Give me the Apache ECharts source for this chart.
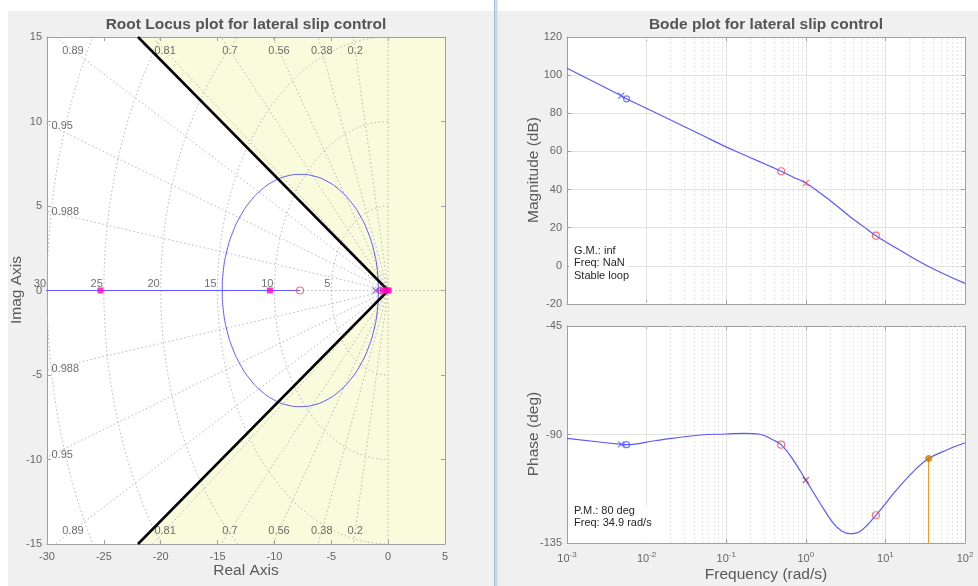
<!DOCTYPE html>
<html>
<head>
<meta charset="utf-8">
<script src="https://cdn.jsdelivr.net/npm/echarts@6/dist/echarts.min.js"></script>
<style>
html, body { margin: 0; padding: 0; background: #ffffff; }
#chart { width: 978px; height: 586px; }
</style>
</head>
<body>
<div id="chart"></div>
<script>
// ---------- Root locus data (real, imag) ----------
const locusRealAxis = [[-32, 0], [-7.75, 0]];
const locusNearOrigin = [[-1.0, 0], [0, 0]];
const locusCircle = [
  [-0.85, 0], [-0.95, 1.19], [-1.26, 2.35], [-1.77, 3.44], [-2.46, 4.42], [-3.30, 5.26],
  [-4.28, 5.95], [-5.37, 6.46], [-6.53, 6.77], [-7.72, 6.87], [-8.91, 6.77], [-10.07, 6.46],
  [-11.16, 5.95], [-12.14, 5.26], [-12.98, 4.42], [-13.67, 3.44], [-14.18, 2.35], [-14.49, 1.19],
  [-14.59, 0], [-14.49, -1.19], [-14.18, -2.35], [-13.67, -3.44], [-12.98, -4.42], [-12.14, -5.26],
  [-11.16, -5.95], [-10.07, -6.46], [-8.91, -6.77], [-7.72, -6.87], [-6.53, -6.77], [-5.37, -6.46],
  [-4.28, -5.95], [-3.30, -5.26], [-2.46, -4.42], [-1.77, -3.44], [-1.26, -2.35], [-0.95, -1.19], [-0.85, 0]
];
const designBoundary = [[-22.0, 15], [0, 0], [-22.0, -15]];
const designRegion = [[-22.0, 15], [0, 0], [-22.0, -15], [5, -15], [5, 15]];
const openLoopPoles = [[-1.1, 0]];
const openLoopZeros = [[-7.75, 0], [-0.62, 0]];
const closedLoopPoles = [[-25.3, 0], [-10.4, 0], [-0.45, 0], [-0.12, 0], [0.05, 0]];
const dampingValues = [0.2, 0.38, 0.56, 0.7, 0.81, 0.89, 0.95, 0.988];
const naturalFreqs = [5, 10, 15, 20, 25, 30];

// ---------- Bode data ----------
const magFreq = [0.001, 0.0048, 0.0056, 0.0126, 0.047, 0.098, 0.164, 0.266, 0.389, 0.49,
  0.697, 1.0, 1.51, 2.21, 3.59, 5.27, 7.59, 15.1, 34.9, 100];
const magDb = [103.6, 89.2, 87.6, 80.5, 69.0, 62.5, 58.4, 54.5, 51.5, 49.6,
  46.5, 43.4, 38.2, 33.0, 25.8, 20.7, 15.8, 8.3, -0.3, -9.2];
const phaseFreq = [0.001, 0.0048, 0.0056, 0.0126, 0.047, 0.098, 0.164, 0.266, 0.389, 0.49,
  0.697, 1.0, 1.51, 2.21, 2.82, 3.59, 4.79, 7.59, 13.8, 22.4, 34.9, 58.9, 100];
const phaseDeg = [-91.6, -94.1, -94.2, -92.6, -90.2, -89.8, -89.5, -89.9, -92.3, -94.2,
  -100.6, -108.9, -118.5, -126.8, -130.0, -131.1, -130.2, -123.5, -113.0, -105.4, -100.0, -96.4, -93.4];
// positions (index into the arrays above) of the open-loop poles and zeros
const magSlowPole = [1], magSlowZero = [2], magFastZeros = [9, 16], magFastPole = [11];
const phSlowPole = [1], phSlowZero = [2], phFastZeros = [9, 17], phFastPole = [11];
const pmDeg = 80;
const pmFreq = 34.9;

// ---------- styling ----------
const FONT = '"Liberation Sans", Arial, Helvetica, sans-serif';
const TICK_COLOR = '#666666';
const AXIS_COLOR = '#a0a0a0';
const BLUE = '#5a5aff';
const RED = '#f0505f';
const MAGENTA = '#ff00c0';
const CROSS = 'path://M0,0L10,10M10,0L0,10';

const chart = echarts.init(document.getElementById('chart'), null, { renderer: 'canvas' });

// sgrid geometry: damping rays and natural-frequency arcs
const sgridSeries = [];
const gridLine = { color: '#b8b8b8', width: 1, type: [1.5, 2.5] };
dampingValues.forEach(z => {
  const w = Math.sqrt(1 - z * z);
  [1, -1].forEach(s => {
    sgridSeries.push({ type: 'line', xAxisIndex: 0, yAxisIndex: 0, silent: true, showSymbol: false,
      z: 1, lineStyle: gridLine, data: [[0, 0], [-60 * z, s * 60 * w]] });
  });
});
sgridSeries.push({ type: 'line', xAxisIndex: 0, yAxisIndex: 0, silent: true, showSymbol: false, z: 1,
  lineStyle: gridLine, data: [[0, -15], [0, 15]] });
sgridSeries.push({ type: 'line', xAxisIndex: 0, yAxisIndex: 0, silent: true, showSymbol: false, z: 1,
  lineStyle: gridLine, data: [[-30, 0], [5, 0]] });
naturalFreqs.forEach(wn => {
  const pts = [];
  for (let a = 90; a <= 270; a += 2) {
    const r = a * Math.PI / 180;
    pts.push([wn * Math.cos(r), wn * Math.sin(r)]);
  }
  sgridSeries.push({ type: 'line', xAxisIndex: 0, yAxisIndex: 0, silent: true, showSymbol: false, z: 1,
    lineStyle: gridLine, data: pts });
});

// sgrid labels
const sgridLabelStyle = { show: true, color: '#4a4a4a', fontSize: 11, fontFamily: FONT };
const dampLabelData = [];
dampingValues.forEach(z => {
  const th = Math.acos(z);
  const xTop = -14.2 / Math.tan(th);
  if (xTop >= -29) {
    dampLabelData.push({ value: [xTop, 14.2], name: String(z), align: 'center' });
    dampLabelData.push({ value: [xTop, -14.2], name: String(z), align: 'center' });
  } else {
    const y = 29.6 * Math.tan(th);
    dampLabelData.push({ value: [-29.6, y], name: String(z), align: 'left' });
    dampLabelData.push({ value: [-29.6, -y], name: String(z), align: 'left' });
  }
});
const dampLabelSeries = {
  type: 'scatter', xAxisIndex: 0, yAxisIndex: 0, silent: true, symbolSize: 0, z: 3, clip: false,
  data: dampLabelData.map(d => ({
    value: d.value, name: d.name,
    label: Object.assign({}, sgridLabelStyle, { position: 'inside', align: d.align, verticalAlign: 'middle', formatter: '{b}' })
  }))
};
const wnLabelSeries = {
  type: 'scatter', xAxisIndex: 0, yAxisIndex: 0, silent: true, symbolSize: 0, z: 3, clip: false,
  data: naturalFreqs.map(wn => ({ value: [-wn, 0], name: String(wn) })),
  label: Object.assign({}, sgridLabelStyle, { position: 'left', distance: 1, offset: [0, -7], formatter: '{b}' })
};

// minor log grid values
const minorFreqs = [];
for (let e = -3; e <= 1; e++) for (let m = 2; m <= 9; m++) minorFreqs.push(m * Math.pow(10, e));

function pick(arrX, arrY, idx) { return idx.map(i => [arrX[i], arrY[i]]); }

function boxAxis(type, gridIndex, pos, extra) {
  return Object.assign({
    type, gridIndex, position: pos,
    axisLine: { show: true, onZero: false, lineStyle: { color: AXIS_COLOR, width: 1 } },
    axisTick: { show: true, inside: true, length: 4, lineStyle: { color: AXIS_COLOR } },
    axisLabel: { show: false },
    splitLine: { show: false }
  }, extra);
}

const logLabel = {
  show: true, margin: 8, showMinLabel: true, showMaxLabel: true,
  formatter: v => '{b|10}{e|' + Math.round(Math.log10(v)) + '}',
  rich: {
    b: { fontSize: 11, fontFamily: FONT, color: TICK_COLOR },
    e: { fontSize: 8, fontFamily: FONT, color: TICK_COLOR, padding: [0, 0, 7, 0] }
  }
};
const valLabel = { show: true, fontSize: 11, fontFamily: FONT, color: TICK_COLOR, margin: 5, showMinLabel: true, showMaxLabel: true };

const majorSplit = { show: true, lineStyle: { color: '#e2e2e2', width: 1, type: 'solid' } };

function minorGrid(xi, yi) {
  return { type: 'line', xAxisIndex: xi, yAxisIndex: yi, silent: true, data: [], z: 1,
    markLine: { silent: true, z: 1, symbol: 'none', label: { show: false }, animation: false,
      lineStyle: { color: '#e6e6e6', width: 1, type: [2, 2] },
      data: minorFreqs.map(v => ({ xAxis: v })) } };
}

function marks(xi, yi, pts, symbol, size, color) {
  return { type: 'scatter', xAxisIndex: xi, yAxisIndex: yi, silent: true, z: 6, symbol, symbolSize: size,
    itemStyle: { color: 'rgba(0,0,0,0)', borderColor: color, borderWidth: 1.2 }, data: pts };
}

const option = {
  animation: false,
  backgroundColor: '#ffffff',
  grid: [
    { left: 47, top: 37, width: 398, height: 507, show: true, backgroundColor: '#ffffff', borderWidth: 0 },
    { left: 567, top: 37, width: 398, height: 267, show: true, backgroundColor: '#ffffff', borderWidth: 0 },
    { left: 567, top: 326, width: 398, height: 217, show: true, backgroundColor: '#ffffff', borderWidth: 0 }
  ],
  xAxis: [
    boxAxis('value', 0, 'bottom', { min: -30, max: 5, interval: 5, axisLabel: Object.assign({}, valLabel, { margin: 7 }) }),
    boxAxis('value', 0, 'top', { min: -30, max: 5, interval: 5 }),
    boxAxis('log', 1, 'bottom', { min: 0.001, max: 100, logBase: 10, splitNumber: 5, splitLine: majorSplit }),
    boxAxis('log', 1, 'top', { min: 0.001, max: 100, logBase: 10, splitNumber: 5 }),
    boxAxis('log', 2, 'bottom', { min: 0.001, max: 100, logBase: 10, splitNumber: 5, splitLine: majorSplit, axisLabel: logLabel }),
    boxAxis('log', 2, 'top', { min: 0.001, max: 100, logBase: 10, splitNumber: 5 })
  ],
  yAxis: [
    boxAxis('value', 0, 'left', { min: -15, max: 15, interval: 5, axisLabel: valLabel }),
    boxAxis('value', 0, 'right', { min: -15, max: 15, interval: 5 }),
    boxAxis('value', 1, 'left', { min: -20, max: 120, interval: 20, axisLabel: valLabel, splitLine: majorSplit }),
    boxAxis('value', 1, 'right', { min: -20, max: 120, interval: 20 }),
    boxAxis('value', 2, 'left', { min: -135, max: -45, interval: 45, axisLabel: valLabel, splitLine: majorSplit }),
    boxAxis('value', 2, 'right', { min: -135, max: -45, interval: 45 })
  ],
  graphic: [
    { type: 'rect', z: -10, shape: { x: 8, y: 11, width: 970, height: 575 }, style: { fill: '#f0f0f0' } },
    { type: 'rect', z: -9, shape: { x: 494, y: 0, width: 1.5, height: 586 }, style: { fill: '#9fbde6' } },
    { type: 'rect', z: -9, shape: { x: 496, y: 0, width: 1.5, height: 586 }, style: { fill: '#d4d4d4' } },
    { type: 'text', x: 246, y: 25, style: { text: 'Root Locus plot for lateral slip control', fontSize: 15.5, fontWeight: 'bold', fontFamily: FONT, fill: '#555555', align: 'center', verticalAlign: 'middle' } },
    { type: 'text', x: 766, y: 25, style: { text: 'Bode plot for lateral slip control', fontSize: 15.5, fontWeight: 'bold', fontFamily: FONT, fill: '#555555', align: 'center', verticalAlign: 'middle' } },
    { type: 'text', x: 246, y: 571, style: { text: 'Real Axis', fontSize: 15.5, fontFamily: FONT, fill: '#5a5a5a', align: 'center', verticalAlign: 'middle' } },
    { type: 'text', x: 17, y: 290, rotation: Math.PI / 2, style: { text: 'Imag Axis', fontSize: 15.5, fontFamily: FONT, fill: '#5a5a5a', align: 'center', verticalAlign: 'middle' } },
    { type: 'text', x: 766, y: 575, style: { text: 'Frequency (rad/s)', fontSize: 15.5, fontFamily: FONT, fill: '#5a5a5a', align: 'center', verticalAlign: 'middle' } },
    { type: 'text', x: 534, y: 170, rotation: Math.PI / 2, style: { text: 'Magnitude (dB)', fontSize: 15.5, fontFamily: FONT, fill: '#5a5a5a', align: 'center', verticalAlign: 'middle' } },
    { type: 'text', x: 534, y: 434, rotation: Math.PI / 2, style: { text: 'Phase (deg)', fontSize: 15.5, fontFamily: FONT, fill: '#5a5a5a', align: 'center', verticalAlign: 'middle' } },
    { type: 'rect', z: 20, shape: { x: 569, y: 253, width: 58, height: 50 }, style: { fill: '#ffffff' } },
    { type: 'text', z: 21, x: 574, y: 263, style: { text: 'G.M.: inf\nFreq: NaN\nStable loop', fontSize: 11, lineHeight: 12.5, fontFamily: FONT, fill: '#262626', align: 'left', verticalAlign: 'middle' } },
    { type: 'rect', z: 20, shape: { x: 569, y: 507, width: 78, height: 35 }, style: { fill: '#ffffff' } },
    { type: 'text', z: 21, x: 574, y: 517, style: { text: 'P.M.: ' + pmDeg + ' deg\nFreq: ' + pmFreq + ' rad/s', fontSize: 11, lineHeight: 12.5, fontFamily: FONT, fill: '#262626', align: 'left', verticalAlign: 'middle' } }
  ],
  series: [
    // design region shading
    {
      type: 'custom', xAxisIndex: 0, yAxisIndex: 0, silent: true, z: 0, data: [0],
      renderItem: (params, api) => ({
        type: 'polygon',
        shape: { points: designRegion.map(p => api.coord(p)) },
        style: { fill: '#fafadc' }
      })
    },
    ...sgridSeries,
    dampLabelSeries,
    wnLabelSeries,
    // locus branches
    { type: 'line', xAxisIndex: 0, yAxisIndex: 0, silent: true, showSymbol: false, z: 4,
      lineStyle: { color: BLUE, width: 1.2 }, data: locusRealAxis },
    { type: 'line', xAxisIndex: 0, yAxisIndex: 0, silent: true, showSymbol: false, z: 4,
      lineStyle: { color: BLUE, width: 1.2 }, data: locusNearOrigin },
    { type: 'line', xAxisIndex: 0, yAxisIndex: 0, silent: true, showSymbol: false, z: 4, smooth: 0.5,
      lineStyle: { color: BLUE, width: 1 }, data: locusCircle },
    // design boundary
    { type: 'line', xAxisIndex: 0, yAxisIndex: 0, silent: true, showSymbol: false, z: 5,
      lineStyle: { color: '#000000', width: 2.5 }, data: designBoundary },
    // poles / zeros / closed-loop poles
    marks(0, 0, openLoopZeros, 'circle', 7, RED),
    marks(0, 0, openLoopPoles, CROSS, 6, '#8a3cc8'),
    { type: 'scatter', xAxisIndex: 0, yAxisIndex: 0, silent: true, z: 7, symbol: 'rect', symbolSize: 6,
      itemStyle: { color: MAGENTA }, data: closedLoopPoles },

    // magnitude
    minorGrid(2, 2),
    { type: 'line', xAxisIndex: 2, yAxisIndex: 2, silent: true, showSymbol: false, smooth: 0.4, z: 4,
      lineStyle: { color: BLUE, width: 1.2 }, data: magFreq.map((f, i) => [f, magDb[i]]) },
    marks(2, 2, pick(magFreq, magDb, magSlowPole), CROSS, 6, BLUE),
    marks(2, 2, pick(magFreq, magDb, magSlowZero), 'circle', 6, BLUE),
    marks(2, 2, pick(magFreq, magDb, magFastZeros), 'circle', 7, RED),
    marks(2, 2, pick(magFreq, magDb, magFastPole), CROSS, 6, RED),

    // phase
    minorGrid(4, 4),
    { type: 'line', xAxisIndex: 4, yAxisIndex: 4, silent: true, showSymbol: false, smooth: 0.4, z: 4,
      lineStyle: { color: BLUE, width: 1.2 }, data: phaseFreq.map((f, i) => [f, phaseDeg[i]]) },
    { type: 'line', xAxisIndex: 4, yAxisIndex: 4, silent: true, showSymbol: false, z: 5,
      lineStyle: { color: '#f0a030', width: 1.2 }, data: [[pmFreq, pmDeg - 180], [pmFreq, -135]] },
    { type: 'scatter', xAxisIndex: 4, yAxisIndex: 4, silent: true, z: 7, symbol: 'circle', symbolSize: 7,
      itemStyle: { color: '#cc7a00' }, data: [[pmFreq, pmDeg - 180]] },
    marks(4, 4, pick(phaseFreq, phaseDeg, phSlowPole), CROSS, 6, BLUE),
    marks(4, 4, pick(phaseFreq, phaseDeg, phSlowZero), 'circle', 6, BLUE),
    marks(4, 4, pick(phaseFreq, phaseDeg, phFastZeros), 'circle', 7, RED),
    marks(4, 4, pick(phaseFreq, phaseDeg, phFastPole), CROSS, 6, '#a0205a')
  ]
};

chart.setOption(option);
</script>
</body>
</html>
